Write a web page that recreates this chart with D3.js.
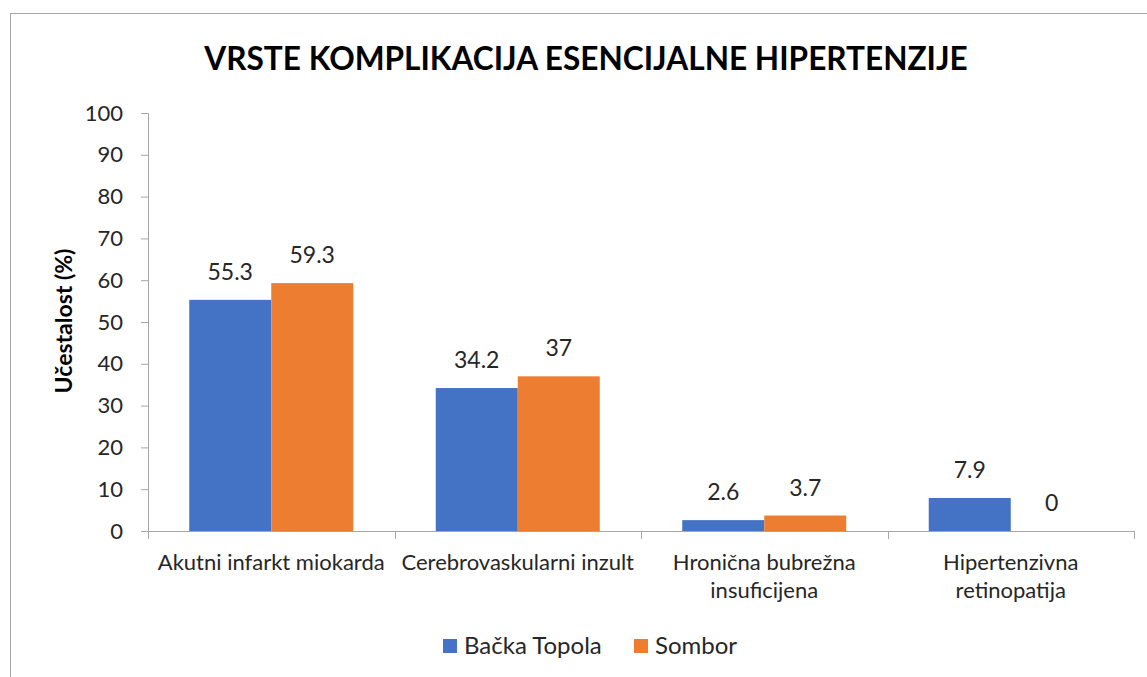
<!DOCTYPE html>
<html>
<head>
<meta charset="utf-8">
<script src="https://cdn.jsdelivr.net/npm/d3@7"></script>
<style>
  body { margin: 0; background: #fff; }
  text { font-family: Lato, "Open Sans", sans-serif; fill: #262626; }
</style>
</head>
<body>
<svg id="chart" width="1147" height="677"></svg>
<script>
// Data
var categories = [
  ["Akutni infarkt miokarda"],
  ["Cerebrovaskularni inzult"],
  ["Hronična bubrežna", "insuficijena"],
  ["Hipertenzivna", "retinopatija"]
];
var seriesNames = ["Bačka Topola", "Sombor"];
var backaTopola = [55.3, 34.2, 2.6, 7.9];
var sombor = [59.3, 37, 3.7, 0];
var yTicks = [0, 10, 20, 30, 40, 50, 60, 70, 80, 90, 100];
var colors = ["#4472C4", "#ED7D31"];

var svg = d3.select("#chart");

// chart frame (only top and left edges visible)
svg.append("rect")
  .attr("x", 10.5).attr("y", 13.5)
  .attr("width", 1300).attr("height", 800)
  .attr("fill", "none")
  .attr("stroke", "#a6a6a6")
  .attr("stroke-width", 1);

var plot = {left: 148, right: 1134, top: 113, bottom: 531};

var x0 = d3.scaleBand()
  .domain(d3.range(categories.length))
  .range([plot.left, plot.right])
  .padding(0);

var x1 = d3.scaleBand()
  .domain(seriesNames)
  .range([0, x0.bandwidth()])
  .paddingInner(0)
  .paddingOuter(0.503);

var y = d3.scaleLinear().domain([0, 100]).range([plot.bottom, plot.top]);

// Title
svg.append("text")
  .attr("x", 586).attr("y", 70)
  .attr("text-anchor", "middle")
  .style("font-weight", "bold")
  .style("font-size", "31.6px")
  .style("fill", "#000")
  .text("VRSTE KOMPLIKACIJA ESENCIJALNE HIPERTENZIJE");

// Y axis
var yAxis = svg.append("g")
  .attr("transform", "translate(" + plot.left + ",0)")
  .call(d3.axisLeft(y).tickValues(yTicks).tickSize(7).tickPadding(18));
yAxis.select(".domain").attr("stroke", "#a6a6a6");
yAxis.selectAll(".tick line").attr("stroke", "#a6a6a6");
yAxis.selectAll(".tick text")
  .style("font-size", "22px")
  .style("font-family", "Lato, sans-serif")
  .attr("fill", "#262626");

// Y label
svg.append("text")
  .attr("transform", "translate(72,321) rotate(-90)")
  .attr("text-anchor", "middle")
  .style("font-weight", "bold")
  .style("font-size", "23px")
  .style("fill", "#000")
  .text("Učestalost (%)");

// X axis line with ticks at category boundaries
var xAxisG = svg.append("g");
xAxisG.append("line")
  .attr("x1", plot.left).attr("x2", plot.right + 1)
  .attr("y1", plot.bottom + 0.5).attr("y2", plot.bottom + 0.5)
  .attr("stroke", "#a6a6a6");
xAxisG.selectAll(".xtick")
  .data(d3.range(categories.length + 1))
  .join("line")
  .attr("x1", function(i) { return Math.round(plot.left + i * x0.step()) + 0.5; })
  .attr("x2", function(i) { return Math.round(plot.left + i * x0.step()) + 0.5; })
  .attr("y1", plot.bottom)
  .attr("y2", plot.bottom + 8)
  .attr("stroke", "#a6a6a6");

// category labels
var catLabels = svg.append("g").selectAll("text")
  .data(categories)
  .join("text")
  .attr("text-anchor", "middle")
  .attr("x", function(d, i) { return x0(i) + x0.bandwidth() / 2; })
  .attr("y", 570)
  .style("font-size", "22px");
catLabels.selectAll("tspan")
  .data(function(d) { return d; })
  .join("tspan")
  .attr("x", function() { return d3.select(this.parentNode).attr("x"); })
  .attr("dy", function(d, i) { return i === 0 ? 0 : 28; })
  .text(function(d) { return d; });

// Bars
var rows = categories.map(function(c, i) {
  return [
    {cat: i, name: seriesNames[0], value: backaTopola[i], color: colors[0]},
    {cat: i, name: seriesNames[1], value: sombor[i], color: colors[1]}
  ];
});

var groups = svg.append("g").selectAll("g")
  .data(rows)
  .join("g")
  .attr("transform", function(d, i) { return "translate(" + x0(i) + ",0)"; });

groups.selectAll("rect")
  .data(function(d) { return d; })
  .join("rect")
  .attr("x", function(d) { return x1(d.name); })
  .attr("width", x1.bandwidth())
  .attr("y", function(d) { return y(d.value); })
  .attr("height", function(d) { return y(0) - y(d.value); })
  .attr("fill", function(d) { return d.color; });

groups.selectAll("text")
  .data(function(d) { return d; })
  .join("text")
  .attr("text-anchor", "middle")
  .attr("x", function(d) { return x1(d.name) + x1.bandwidth() / 2; })
  .attr("y", function(d) { return y(d.value) - 20; })
  .style("font-size", "23px")
  .text(function(d) { return d.value; });

// Legend
var legend = svg.append("g");
var legendPos = [443, 634];
seriesNames.forEach(function(name, i) {
  legend.append("rect")
    .attr("x", legendPos[i]).attr("y", 639)
    .attr("width", 14).attr("height", 14)
    .attr("fill", colors[i]);
  legend.append("text")
    .attr("x", legendPos[i] + 21).attr("y", 654)
    .style("font-size", "24px")
    .text(name);
});
</script>
</body>
</html>
